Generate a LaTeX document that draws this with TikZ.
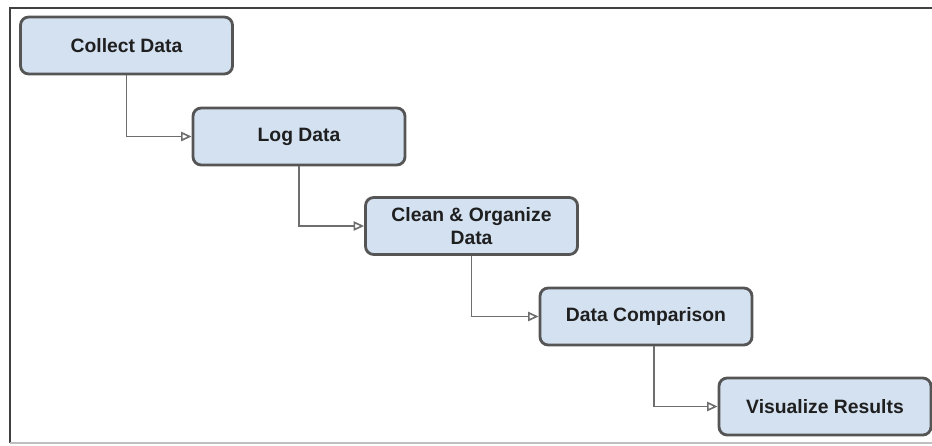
\documentclass[tikz,border=0pt]{standalone}
\usepackage{fontspec}
\setmainfont{Liberation Sans}
\usetikzlibrary{arrows.meta}
\definecolor{boxfill}{HTML}{D3E1F1}
\definecolor{boxline}{HTML}{555555}
\definecolor{linkgray}{HTML}{6E6E6E}
\begin{document}
\begin{tikzpicture}[
    x=0.03cm, y=-0.03cm,
    stage/.style={draw=boxline,line width=2.4pt,fill=boxfill,rounded corners=7pt,
      minimum width=6.36cm,minimum height=1.71cm,align=center,
      font=\fontsize{16.5}{19.5}\selectfont\bfseries,text=black!88},
    link/.style={draw=linkgray,line width=1.4pt,-{Triangle[open,length=9pt,width=8pt]}},
  ]
  \useasboundingbox (0,0) rectangle (932,445);
  % frame
  \draw[black!75,line width=2pt] (10,443) -- (10,8) -- (932,8);
  \draw[black!25,line width=1.2pt] (10,443) -- (932,443);
  % stages
  \node[stage] (collect) at (126.5,45.5) {Collect Data};
  \node[stage] (log) at (299,136.5) {Log Data};
  \node[stage] (clean) at (471.5,226) {Clean \& Organize\\Data};
  \node[stage] (compare) at (646,316.5) {Data Comparison};
  \node[stage] (visual) at (825,406.5) {Visualize Results};
  % links
  \draw[link] (collect.south) |- (log.west);
  \draw[link] (log.south) |- (clean.west);
  \draw[link] (clean.south) |- (compare.west);
  \draw[link] ([xshift=0.24cm]compare.south) |- (visual.west);
\end{tikzpicture}
\end{document}
